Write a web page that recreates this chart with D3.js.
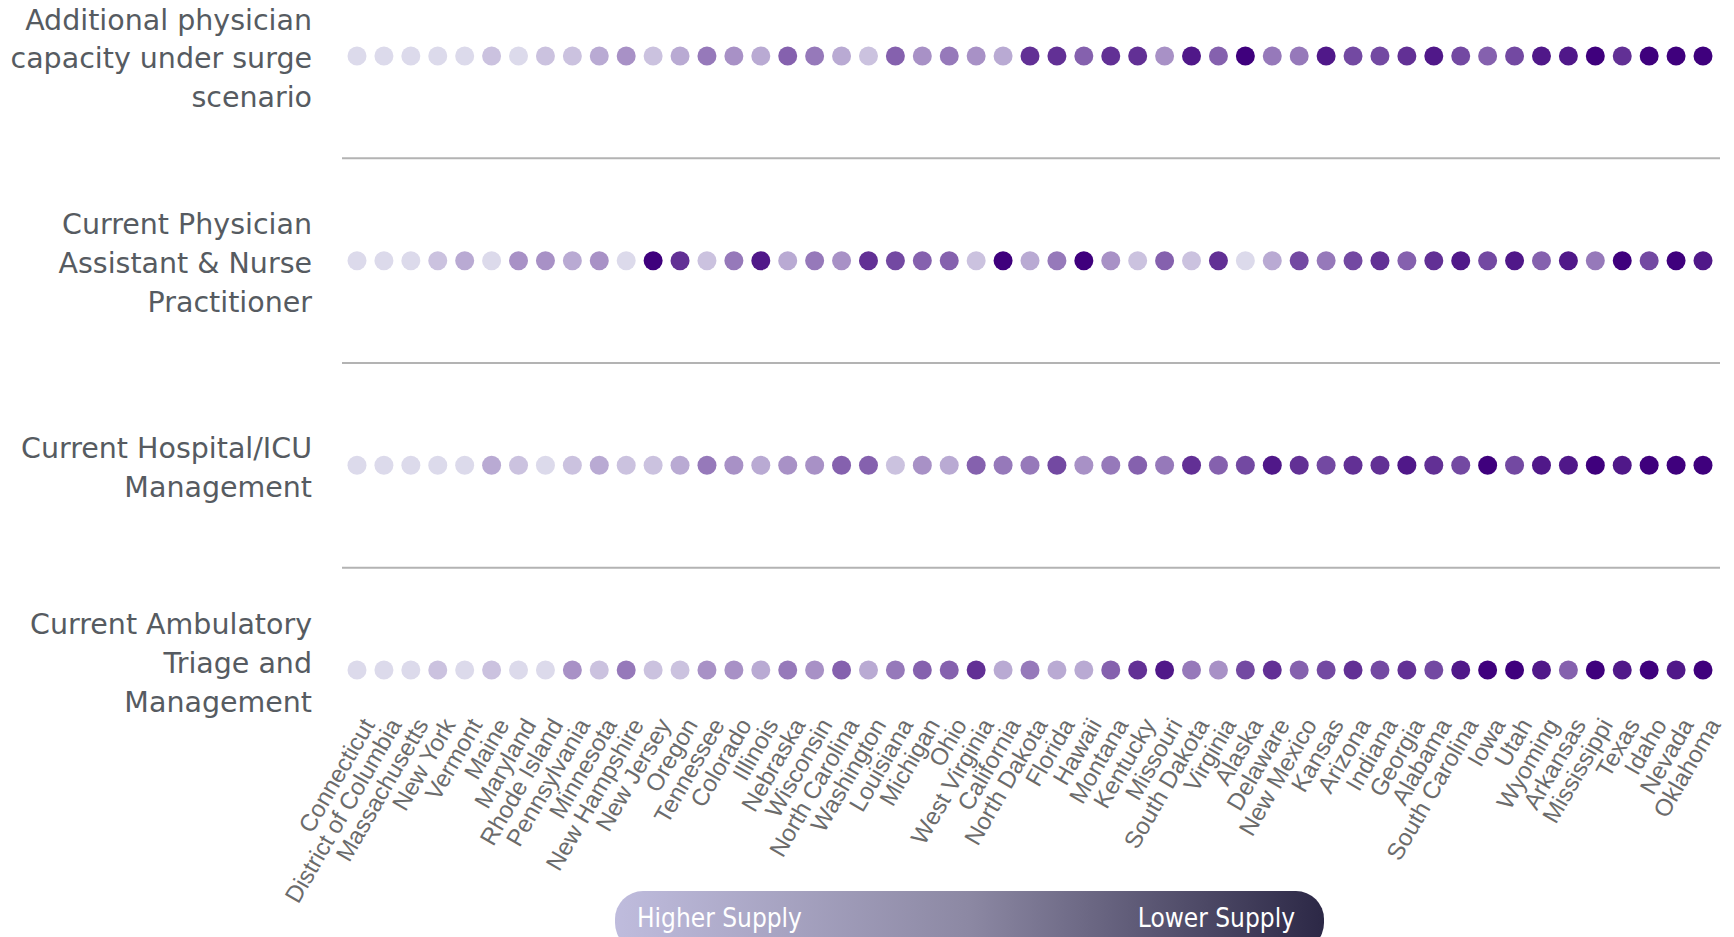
<!DOCTYPE html>
<html>
<head>
<meta charset="utf-8">
<script src="https://cdn.jsdelivr.net/npm/d3@7"></script>
<style>
  html, body { margin: 0; padding: 0; background: #ffffff; overflow: hidden; }
  svg { display: block; }
</style>
</head>
<body>
<svg id="chart" width="1734" height="937"></svg>
<script>
// ---------------- DATA ----------------
const states = ["Connecticut","District of Columbia","Massachusetts","New York","Vermont","Maine","Maryland","Rhode Island","Pennsylvania","Minnesota","New Hampshire","New Jersey","Oregon","Tennessee","Colorado","Illinois","Nebraska","Wisconsin","North Carolina","Washington","Louisiana","Michigan","Ohio","West Virginia","California","North Dakota","Florida","Hawaii","Montana","Kentucky","Missouri","South Dakota","Virginia","Alaska","Delaware","New Mexico","Kansas","Arizona","Indiana","Georgia","Alabama","South Carolina","Iowa","Utah","Wyoming","Arkansas","Mississippi","Texas","Idaho","Nevada","Oklahoma"];

const rowNames = ["Additional physician capacity under surge scenario",
                  "Current Physician Assistant & Nurse Practitioner",
                  "Current Hospital/ICU Management",
                  "Current Ambulatory Triage and Management"];
const rowLabelLines = [
  ["Additional physician", "capacity under surge", "scenario"],
  ["Current Physician", "Assistant & Nurse", "Practitioner"],
  ["Current Hospital/ICU", "Management"],
  ["Current Ambulatory", "Triage and", "Management"]
];

// supply-shortage level per state (1 = higher supply ... 10 = lower supply)
const surgeCapacity = [1,1,1,1,1,2,1,2,2,3,4,2,3,5,4,3,6,5,3,2,6,4,5,4,3,8,8,6,8,8,4,9,6,10,5,5,9,7,7,8,9,7,6,7,9,9,10,8,10,10,10];
const paNp          = [1,1,1,2,3,1,4,4,3,4,1,10,8,2,5,9,3,5,4,8,7,6,6,2,10,3,5,10,4,2,6,2,8,1,3,7,5,7,8,6,8,9,7,9,6,9,5,10,7,10,9];
const hospitalIcu   = [1,1,1,1,1,3,2,1,2,3,2,2,3,5,4,3,4,4,6,6,2,4,3,6,5,5,7,4,5,6,5,8,6,7,9,8,7,8,8,9,8,7,10,7,9,9,10,9,10,10,10];
const ambulatory    = [1,1,1,2,1,2,1,1,4,2,5,2,2,4,4,3,5,4,6,3,5,6,6,8,3,5,3,3,6,8,9,5,4,7,8,6,7,8,7,8,7,9,10,10,9,6,10,9,10,9,10];

const legendLabels = ["Higher Supply", "Lower Supply"];

const seriesValues = [surgeCapacity, paNp, hospitalIcu, ambulatory];

// ---------------- CHART ----------------
const svg = d3.select("#chart");

const x = d3.scalePoint().domain(states).range([357, 1703]);
const y = d3.scaleBand().domain(rowNames).range([-46.3, 772.3]).paddingInner(0).paddingOuter(0);
const color = d3.scaleLinear().domain([1, 10]).range(["#dcdaeb", "#3f007d"]).interpolate(d3.interpolateRgb);

const cells = [];
rowNames.forEach((r, i) => {
  states.forEach((s, j) => cells.push({ row: r, state: s, v: seriesValues[i][j] }));
});

// separators
svg.append("g").selectAll("line")
  .data(rowNames.slice(0, -1))
  .join("line")
  .attr("x1", 342).attr("x2", 1720)
  .attr("y1", d => y(d) + y.bandwidth())
  .attr("y2", d => y(d) + y.bandwidth())
  .attr("stroke", "#b3b3b3")
  .attr("stroke-width", 2);

// dots
svg.append("g").selectAll("circle")
  .data(cells)
  .join("circle")
  .attr("cx", d => x(d.state))
  .attr("cy", d => y(d.row) + y.bandwidth() / 2)
  .attr("r", 9.5)
  .attr("fill", d => color(d.v));

// row labels
const labelFont = "'DejaVu Sans', sans-serif";
const probe = svg.append("text").attr("font-family", labelFont).attr("font-size", 100).text("Additional physician");
const probeW = probe.node().getComputedTextLength();
probe.remove();
const labelSize = 100 * 287 / probeW;
const lineH = 38.7;

const rowLabels = svg.append("g").selectAll("text")
  .data(rowNames)
  .join("text")
  .attr("font-family", labelFont)
  .attr("font-size", labelSize)
  .attr("fill", "#565b61")
  .attr("text-anchor", "end");
rowLabels.each(function (d, i) {
  const lines = rowLabelLines[i];
  const shift = i === rowNames.length - 1 ? -7 : 2.5;
  const cy = y(d) + y.bandwidth() / 2 + shift;
  const top = cy - (lines.length - 1) * lineH / 2;
  d3.select(this).selectAll("tspan")
    .data(lines)
    .join("tspan")
    .attr("x", 312)
    .attr("y", (t, k) => top + k * lineH)
    .attr("dy", "0.35em")
    .text(t => t);
});

// x axis labels (rotated)
const xAxis = d3.axisBottom(x).tickSize(0).tickPadding(0);
const gx = svg.append("g").attr("transform", "translate(0, 716)").call(xAxis);
gx.select(".domain").remove();
gx.selectAll(".tick text")
  .attr("font-family", "'Liberation Sans', Arial, sans-serif")
  .attr("font-size", 24)
  .attr("fill", "#6b6b6b")
  .attr("text-anchor", "end")
  .attr("y", 0)
  .attr("dy", "0.72em")
  .attr("transform", "translate(3,0) rotate(-60)");

// legend
const defs = svg.append("defs");
const grad = defs.append("linearGradient").attr("id", "legendGrad").attr("x1", "0%").attr("x2", "100%");
grad.append("stop").attr("offset", "0%").attr("stop-color", "#bfbcdd");
grad.append("stop").attr("offset", "50%").attr("stop-color", "#8c88a3");
grad.append("stop").attr("offset", "100%").attr("stop-color", "#2c2846");

const legendX = d3.scaleLinear().domain([0, 1]).range([615, 1324]);
svg.append("rect")
  .attr("x", legendX(0)).attr("y", 891)
  .attr("width", legendX(1) - legendX(0)).attr("height", 60)
  .attr("rx", 28).attr("ry", 28)
  .attr("fill", "url(#legendGrad)");

const legendFont = "'DejaVu Sans Condensed', 'Liberation Sans Narrow', sans-serif";
svg.append("g").selectAll("text")
  .data(legendLabels)
  .join("text")
  .attr("x", (d, i) => i === 0 ? 637 : 1295)
  .attr("y", 927)
  .attr("text-anchor", (d, i) => i === 0 ? "start" : "end")
  .attr("font-family", legendFont)
  .attr("font-size", 26)
  .attr("fill", "#ffffff")
  .text(d => d);
</script>
</body>
</html>
